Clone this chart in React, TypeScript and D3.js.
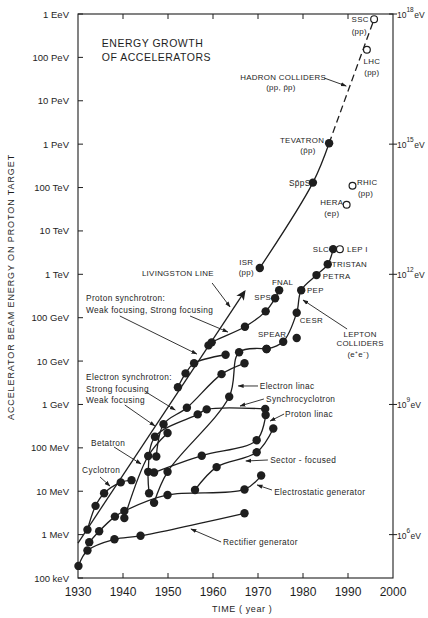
import React from 'react';
import * as d3 from 'd3';

// ---- data (year, beam energy in eV) ----
const rectifierYears = [1930.1, 1932.1, 1938.1, 1943.9, 1967.0];
const rectifierEnergy = [1.9e5, 4.3e5, 7.8e5, 9.4e5, 3.1e6];

const electrostaticYears = [1932.5, 1934.7, 1938.2, 1940.3, 1949.9, 1967.0, 1970.7];
const electrostaticEnergy = [6.7e5, 1.2e6, 2.6e6, 3.5e6, 8.2e6, 1.1e7, 2.3e7];

const cyclotronYears = [1932.1, 1933.9, 1935.8, 1939.5, 1941.9];
const cyclotronEnergy = [1.3e6, 4.6e6, 9.0e6, 1.6e7, 1.8e7];

const betatronYears = [1940.3, 1945.6, 1949.9];
const betatronEnergy = [2.4e6, 6.5e7, 2.2e8];

const synchrocyclotronYears = [1945.8, 1945.6, 1947.1, 1956.6, 1958.6, 1971.6];
const synchrocyclotronEnergy = [9.0e6, 2.8e7, 1.8e8, 5.9e8, 7.7e8, 7.9e8];

const sectorYears = [1956.0, 1960.8, 1969.7, 1973.4];
const sectorEnergy = [1.07e7, 3.6e7, 7.9e7, 2.8e8];

const protonLinacYears = [1946.9, 1957.5, 1969.7, 1971.7];
const protonLinacEnergy = [2.7e7, 6.6e7, 1.5e8, 5.7e8];

const electronLinacYears = [1946.9, 1949.9, 1963.6, 1965.8, 1971.9];
const electronLinacEnergy = [5.4e6, 2.8e7, 1.5e9, 1.6e10, 1.9e10];

const electronSyncYears = [1947.4, 1949.0, 1954.2, 1961.9, 1967.0];
const electronSyncEnergy = [6.3e7, 3.5e8, 8.4e8, 5.0e9, 8.9e9];

const protonWeakYears = [1952.2, 1953.9, 1955.8, 1962.8];
const protonWeakEnergy = [2.5e9, 5.2e9, 8.9e9, 1.4e10];

const protonStrongYears = [1959.0, 1959.7, 1967.1, 1971.7, 1973.8, 1974.7];
const protonStrongEnergy = [2.3e10, 2.7e10, 6.2e10, 1.4e11, 2.8e11, 4.3e11];

const leptonYears = [1971.9, 1975.6, 1978.6, 1979.6, 1983.0, 1985.5, 1986.7];
const leptonEnergy = [1.9e10, 2.8e10, 1.3e11, 4.3e11, 9.6e11, 1.7e12, 3.8e12];

const hadronYears = [1970.4, 1982.2, 1985.8];
const hadronEnergy = [1.4e12, 1.3e14, 1.05e15];

const hadronFutureYears = [1985.8, 1995.8];
const hadronFutureEnergy = [1.05e15, 7.6e17];

const livingstonYears = [1930.0, 1967.0];
const livingstonEnergy = [6.4e5, 4.0e11];

// single filled point near SPEAR
const otherYears = [1978.6];
const otherEnergy = [3.4e10];

// open circles: LHC, SSC, RHIC, HERA, LEP I
const openYears = [1994.2, 1995.8, 1991.0, 1989.7, 1988.2];
const openEnergy = [1.5e17, 7.6e17, 1.1e14, 4.0e13, 3.8e12];

const yearTicks = [1930, 1940, 1950, 1960, 1970, 1980, 1990, 2000];
const energyTickLabels = ['100 keV', '1 MeV', '10 MeV', '100 MeV', '1 GeV', '10 GeV', '100 GeV',
  '1 TeV', '10 TeV', '100 TeV', '1 PeV', '10 PeV', '100 PeV', '1 EeV'];
const rightExponents = [6, 9, 12, 15, 18];

// annotation text: [text, year, log10(eV), anchor]
const labels: [string, number, number, string][] = [
  ['LIVINGSTON LINE', 1944.2, 11.96, 'start'],
  ['Proton synchrotron:', 1931.8, 11.385, 'start'],
  ['Weak focusing, Strong focusing', 1931.8, 11.108, 'start'],
  ['Electron synchrotron:', 1931.8, 9.564, 'start'],
  ['Strong focusing', 1931.8, 9.287, 'start'],
  ['Weak focusing', 1931.8, 9.034, 'start'],
  ['Betatron', 1932.9, 8.043, 'start'],
  ['Cyclotron', 1930.9, 7.42, 'start'],
  ['Electron linac', 1970.4, 9.356, 'start'],
  ['Synchrocyclotron', 1971.8, 9.057, 'start'],
  ['Proton linac', 1976.0, 8.711, 'start'],
  ['Sector - focused', 1972.7, 7.651, 'start'],
  ['Electrostatic generator', 1973.6, 6.913, 'start'],
  ['Rectifier generator', 1962.2, 5.761, 'start'],
  ['ISR', 1967.4, 12.215, 'middle'],
  ['(pp)', 1967.4, 11.984, 'middle'],
  ['FNAL', 1973.1, 11.754, 'start'],
  ['SPS', 1972.9, 11.408, 'end'],
  ['PEP', 1980.9, 11.569, 'start'],
  ['CESR', 1979.3, 10.878, 'start'],
  ['SPEAR', 1970.0, 10.555, 'start'],
  ['PETRA', 1984.4, 11.892, 'start'],
  ['TRISTAN', 1986.4, 12.169, 'start'],
  ['SLC', 1985.8, 12.514, 'end'],
  ['LEP I', 1989.8, 12.514, 'start'],
  ['LEPTON', 1992.7, 10.555, 'middle'],
  ['COLLIDERS', 1992.7, 10.348, 'middle'],
  ['(e\u207Ae\u207B)', 1992.3, 10.094, 'middle'],
  ['HERA', 1986.4, 13.598, 'middle'],
  ['(ep)', 1986.4, 13.344, 'middle'],
  ['RHIC', 1992.0, 14.059, 'start'],
  ['(pp)', 1992.2, 13.805, 'start'],
  ['SSC', 1992.7, 17.816, 'middle'],
  ['(pp)', 1992.5, 17.539, 'middle'],
  ['LHC', 1995.3, 16.848, 'middle'],
  ['(pp)', 1995.3, 16.594, 'middle'],
  ['TEVATRON', 1979.8, 15.027, 'middle'],
  ['(p\u0304p)', 1981.1, 14.796, 'middle'],
  ['Sp\u0304pS', 1979.3, 14.036, 'middle'],
  ['HADRON COLLIDERS', 1975.6, 16.479, 'middle'],
  ['(pp, p\u0304p)', 1975.1, 16.248, 'middle'],
];

// leader arrows: [fromYear, fromExp, toYear, toExp]
const arrows: [number, number, number, number][] = [
  [1959.8, 11.8, 1963.8, 11.247],
  [1939.3, 11.039, 1956.4, 10.163],
  [1954.9, 11.039, 1963.3, 10.67],
  [1945.1, 9.287, 1951.6, 8.872],
  [1940.4, 8.988, 1947.1, 8.504],
  [1938.0, 8.02, 1944.0, 7.628],
  [1934.9, 7.328, 1937.1, 7.121],
  [1970.0, 9.426, 1965.6, 9.426],
  [1971.3, 9.126, 1966.0, 8.965],
  [1975.8, 8.78, 1972.7, 8.619],
  [1972.2, 7.72, 1967.3, 7.697],
  [1973.1, 7.028, 1969.8, 7.144],
  [1961.8, 5.83, 1955.1, 6.129],
  [1989.8, 10.739, 1980.0, 11.408],
  [1984.7, 16.525, 1989.6, 16.341],
];

const ink = '#1e1e1e';
const font = '"Liberation Sans", Arial, sans-serif';

const zip = (ys: number[], es: number[]) => ys.map((yr, i) => [yr, es[i]] as [number, number]);
const isCaps = (s: string) => s === s.toUpperCase() || s.startsWith('(');

const App = () => {
  const x = d3.scaleLinear().domain([1930, 2000]).range([78, 393]);
  const y = d3.scaleLog().domain([1e5, 1e18]).range([578, 14]);

  const line = d3.line<[number, number]>()
    .x(d => x(d[0]))
    .y(d => y(d[1]))
    .curve(d3.curveCatmullRom.alpha(0.5));

  const curves = [
    zip(rectifierYears, rectifierEnergy),
    zip(electrostaticYears, electrostaticEnergy),
    zip(cyclotronYears, cyclotronEnergy),
    zip(betatronYears, betatronEnergy),
    zip(synchrocyclotronYears, synchrocyclotronEnergy),
    zip(sectorYears, sectorEnergy),
    zip(protonLinacYears, protonLinacEnergy),
    zip(electronLinacYears, electronLinacEnergy),
    zip(electronSyncYears, electronSyncEnergy),
    zip(protonWeakYears, protonWeakEnergy),
    zip(protonStrongYears, protonStrongEnergy),
    zip(leptonYears, leptonEnergy),
    zip(hadronYears, hadronEnergy),
  ];
  const dots = [...curves.flat(), ...zip(otherYears, otherEnergy)];
  const opens = zip(openYears, openEnergy);
  const straight = d3.line<[number, number]>().x(d => x(d[0])).y(d => y(d[1]));
  const [x0, x1] = x.range();
  const [yb, yt] = y.range();

  return (
    <svg width={428} height={618} style={{ position: 'absolute', left: 0, top: 0, background: '#fff' }}
      fontFamily={font}>
      <defs>
        <marker id="ah" viewBox="0 0 10 10" refX="9" refY="5" markerWidth="6" markerHeight="6"
          orient="auto" markerUnits="userSpaceOnUse">
          <path d="M0,1.5 L10,5 L0,8.5 z" fill={ink} />
        </marker>
        <marker id="ahBig" viewBox="0 0 10 10" refX="8" refY="5" markerWidth="10" markerHeight="10"
          orient="auto" markerUnits="userSpaceOnUse">
          <path d="M0,0.5 L10,5 L0,9.5 L2.5,5 z" fill={ink} />
        </marker>
      </defs>

      {/* frame */}
      <rect x={x0} y={yt} width={x1 - x0} height={yb - yt} fill="none" stroke={ink} strokeWidth={1.1} />

      {/* year ticks top & bottom */}
      {yearTicks.slice(1, -1).map(t => (
        <g key={'yt' + t}>
          <line x1={x(t)} x2={x(t)} y1={yt} y2={yt + 5} stroke={ink} strokeWidth={1} />
          <line x1={x(t)} x2={x(t)} y1={yb} y2={yb - 5} stroke={ink} strokeWidth={1} />
        </g>
      ))}
      {yearTicks.map(t => (
        <text key={'yl' + t} x={x(t)} y={596} textAnchor="middle" fontSize={12} fill={ink}>{t}</text>
      ))}
      <text x={212} y={612} fontSize={9} fill={ink} letterSpacing={0.6}>TIME ( year )</text>

      {/* energy ticks left */}
      {energyTickLabels.map((lab, i) => {
        const v = Math.pow(10, 5 + i);
        return (
          <g key={lab}>
            <line x1={x0} x2={x0 + 5} y1={y(v)} y2={y(v)} stroke={ink} strokeWidth={1} />
            <text x={69} y={y(v) + 3.5} textAnchor="end" fontSize={9.5} fill={ink}>{lab}</text>
          </g>
        );
      })}
      <text transform={`translate(14,${287}) rotate(-90)`} textAnchor="middle" fontSize={9}
        letterSpacing={0.9} fill={ink}>ACCELERATOR BEAM ENERGY ON PROTON TARGET</text>

      {/* energy ticks right */}
      {rightExponents.map(e => {
        const yy = y(Math.pow(10, e));
        return (
          <g key={'r' + e}>
            <line x1={x1 - 4} x2={x1 + 4} y1={yy} y2={yy} stroke={ink} strokeWidth={1} />
            <text x={397} y={yy + 4} fontSize={8.5} fill={ink}>
              10<tspan dy={-6} fontSize={6.5}>{e}</tspan><tspan dy={6} dx={0.5}>eV</tspan>
            </text>
          </g>
        );
      })}

      {/* title */}
      <text x={x(1935.3)} y={y(10 ** 17.24)} fontSize={10.5} fill={ink} letterSpacing={0.5}>ENERGY GROWTH</text>
      <text x={x(1935.3)} y={y(10 ** 16.917)} fontSize={10.5} fill={ink} letterSpacing={0.5}>OF ACCELERATORS</text>

      {/* Livingston line */}
      <path d={straight(zip(livingstonYears, livingstonEnergy)) || ''} fill="none" stroke={ink}
        strokeWidth={1.3} markerEnd="url(#ahBig)" />

      {/* accelerator curves */}
      {curves.map((c, i) => (
        <path key={'c' + i} d={line(c) || ''} fill="none" stroke={ink} strokeWidth={1.3} />
      ))}
      <path d={straight(zip(hadronFutureYears, hadronFutureEnergy)) || ''} fill="none" stroke={ink}
        strokeWidth={1.3} strokeDasharray="7,4" />

      {/* points */}
      {dots.map((d, i) => (
        <circle key={'d' + i} cx={x(d[0])} cy={y(d[1])} r={4.2} fill={ink} />
      ))}
      {opens.map((d, i) => (
        <circle key={'o' + i} cx={x(d[0])} cy={y(d[1])} r={3.4} fill="#fff" stroke={ink} strokeWidth={1.2} />
      ))}

      {/* leader arrows */}
      {arrows.map((a, i) => (
        <line key={'a' + i} x1={x(a[0])} y1={y(10 ** a[1])} x2={x(a[2])} y2={y(10 ** a[3])}
          stroke={ink} strokeWidth={0.9} markerEnd="url(#ah)" />
      ))}

      {/* labels */}
      {labels.map((l, i) => {
        const caps = isCaps(l[0]);
        return (
          <text key={'l' + i} x={x(l[1])} y={y(10 ** l[2])} textAnchor={l[3]}
            fontSize={caps ? 7.9 : 8.3} letterSpacing={caps ? 0.3 : 0.35} fill={ink}>
            {l[0]}
          </text>
        );
      })}
    </svg>
  );
};

export default App;
